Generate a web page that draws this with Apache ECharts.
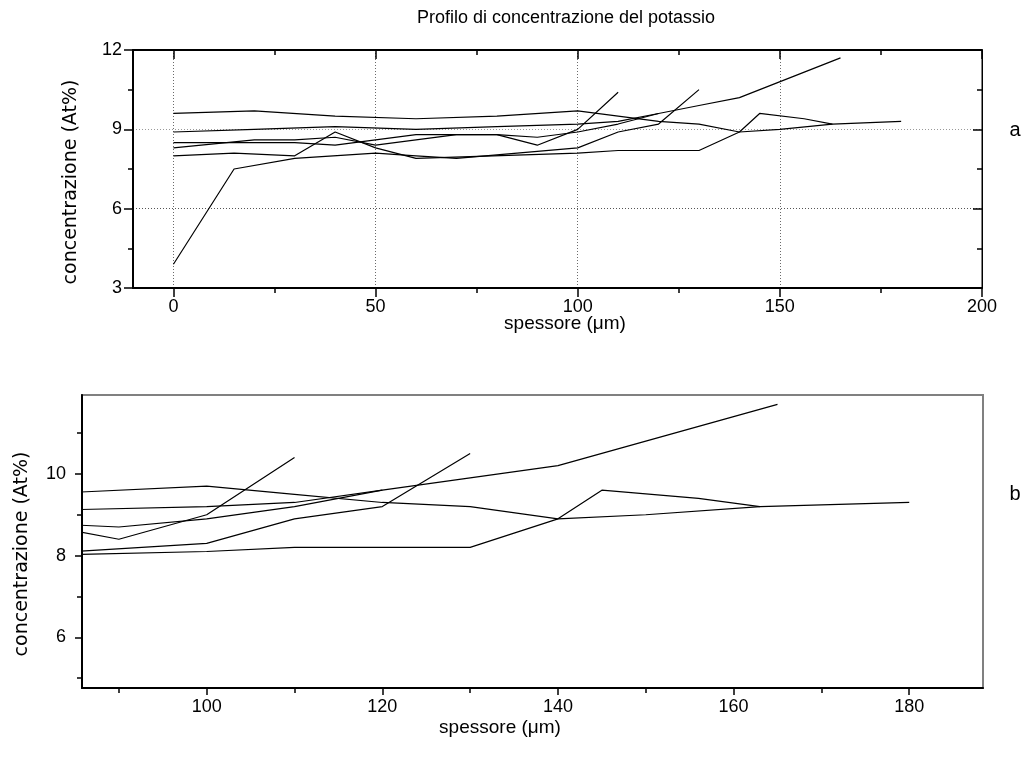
<!DOCTYPE html>
<html>
<head>
<meta charset="utf-8">
<script src="https://cdn.jsdelivr.net/npm/echarts@6/dist/echarts.min.js"></script>
<style>
html, body { margin: 0; padding: 0; background: #fff; }
#chart { width: 1036px; height: 758px; }
</style>
</head>
<body>
<div id="chart"></div>
<script>
// Potassium concentration (At%) versus thickness (µm), six measured profiles
const profile1 = [[0, 9.6], [20, 9.7], [40, 9.5], [60, 9.4], [80, 9.5], [100, 9.7], [110, 9.5], [120, 9.3], [130, 9.2], [140, 8.9], [150, 9.0], [163, 9.2], [180, 9.3]];
const profile2 = [[0, 8.9], [20, 9.0], [40, 9.1], [60, 9.0], [80, 9.1], [100, 9.2], [110, 9.3], [120, 9.6], [130, 9.9], [140, 10.2], [165, 11.7]];
const profile3 = [[0, 8.5], [20, 8.5], [30, 8.5], [40, 8.4], [50, 8.6], [60, 8.8], [70, 8.8], [80, 8.8], [90, 8.7], [100, 8.9], [110, 9.2], [120, 9.6]];
const profile4 = [[0, 8.3], [20, 8.6], [30, 8.6], [40, 8.7], [50, 8.4], [60, 8.6], [70, 8.8], [80, 8.8], [90, 8.4], [100, 9.0], [110, 10.4]];
const profile5 = [[0, 3.9], [15, 7.5], [30, 7.9], [50, 8.1], [60, 8.0], [70, 7.9], [100, 8.3], [110, 8.9], [120, 9.2], [130, 10.5]];
const profile6 = [[0, 8.0], [15, 8.1], [30, 8.0], [40, 8.9], [50, 8.3], [60, 7.9], [100, 8.1], [110, 8.2], [130, 8.2], [140, 8.9], [145, 9.6], [156, 9.4], [163, 9.2]];
const profiles = [profile1, profile2, profile3, profile4, profile5, profile6];

// Panel a: full profile
const aXRange = [-10, 200];
const aYRange = [3, 12];
const aXMajor = [0, 50, 100, 150, 200];
const aXMinor = [25, 75, 125, 175];
const aYMajor = [3, 6, 9, 12];
const aYMinor = [4.5, 7.5, 10.5];

// Panel b: enlarged view of the deeper region
const bXRange = [85.8, 188.4];
const bYRange = [4.76, 11.93];
const bXMajor = [100, 120, 140, 160, 180];
const bXMinor = [90, 110, 130, 150, 170];
const bYMajor = [6, 8, 10];
const bYMinor = [5, 7, 9, 11];

const titleText = 'Profilo di concentrazione del potassio';
const xName = 'spessore (\u03bcm)';
const yName = 'concentrazione (At%)';

const FONT = '"Liberation Sans", Arial, sans-serif';
const WIDE_FONT = '"DejaVu Sans", sans-serif';
const BLACK = '#000';

function axis(grid, range, pos, ticks, o) {
  o = o || {};
  return {
    gridIndex: grid,
    type: 'value',
    min: range[0],
    max: range[1],
    position: pos,
    axisLine: {
      show: o.line !== false,
      onZero: false,
      lineStyle: { color: o.lineColor || BLACK, width: o.lineWidth || 2 }
    },
    axisTick: {
      show: true,
      inside: !!o.inside,
      length: o.tickLen || 9,
      customValues: ticks,
      lineStyle: { color: BLACK, width: 1.5 }
    },
    axisLabel: o.labels ? {
      show: true,
      customValues: ticks,
      color: BLACK,
      fontFamily: FONT,
      fontSize: 18,
      margin: o.margin || 10
    } : { show: false },
    splitLine: o.split ? {
      show: true,
      lineStyle: { color: o.splitColor || '#6a6a6a', type: [1, 2], width: 1 }
    } : { show: false }
  };
}

const chart = echarts.init(document.getElementById('chart'), null, { renderer: 'canvas' });

const series = [];
profiles.forEach(function (p) {
  series.push({ type: 'line', xAxisIndex: 0, yAxisIndex: 0, data: p, showSymbol: false, clip: true,
    lineStyle: { color: BLACK, width: 1.2 }, emphasis: { disabled: true } });
  series.push({ type: 'line', xAxisIndex: 4, yAxisIndex: 4, data: p, showSymbol: false, clip: true,
    lineStyle: { color: BLACK, width: 1.2 }, emphasis: { disabled: true } });
});

chart.setOption({
  animation: false,
  backgroundColor: '#fff',
  grid: [
    { left: 133, top: 50, width: 849, height: 238, show: true, borderColor: BLACK, borderWidth: 1, backgroundColor: 'transparent' },
    { left: 82, top: 395, width: 901, height: 293, show: true, borderColor: '#808080', borderWidth: 2, backgroundColor: 'transparent' }
  ],
  xAxis: [
    axis(0, aXRange, 'bottom', aXMajor, { labels: true, split: true, tickLen: 9, margin: 10 }),
    axis(0, aXRange, 'bottom', aXMinor, { line: false, tickLen: 5 }),
    axis(0, aXRange, 'top', aXMajor, { inside: true, tickLen: 9 }),
    axis(0, aXRange, 'top', aXMinor, { line: false, inside: true, tickLen: 5 }),
    axis(1, bXRange, 'bottom', bXMajor, { labels: true, tickLen: 7, margin: 10 }),
    axis(1, bXRange, 'bottom', bXMinor, { line: false, tickLen: 5 })
  ],
  yAxis: [
    axis(0, aYRange, 'left', aYMajor, { labels: true, split: true, splitColor: ['#6a6a6a', '#555', '#999', '#6a6a6a'], tickLen: 9, margin: 11 }),
    axis(0, aYRange, 'left', aYMinor, { line: false, tickLen: 5 }),
    axis(0, aYRange, 'right', aYMajor, { inside: true, lineWidth: 1, tickLen: 9 }),
    axis(0, aYRange, 'right', aYMinor, { line: false, inside: true, tickLen: 5 }),
    axis(1, bYRange, 'left', bYMajor, { labels: true, tickLen: 7, margin: 16 }),
    axis(1, bYRange, 'left', bYMinor, { line: false, tickLen: 5 })
  ],
  series: series,
  graphic: [
    { type: 'text', x: 566, y: 18, style: { text: titleText, fontFamily: FONT, fontSize: 18, fill: BLACK, align: 'center', verticalAlign: 'middle' } },
    { type: 'text', x: 565, y: 324, style: { text: xName, fontFamily: FONT, fontSize: 19, fill: BLACK, align: 'center', verticalAlign: 'middle' } },
    { type: 'text', x: 500, y: 728, style: { text: xName, fontFamily: FONT, fontSize: 19, fill: BLACK, align: 'center', verticalAlign: 'middle' } },
    { type: 'text', x: 71, y: 182, rotation: Math.PI / 2, style: { text: yName, fontFamily: WIDE_FONT, fontSize: 19, fill: BLACK, align: 'center', verticalAlign: 'middle' } },
    { type: 'text', x: 22, y: 554, rotation: Math.PI / 2, style: { text: yName, fontFamily: WIDE_FONT, fontSize: 19, fill: BLACK, align: 'center', verticalAlign: 'middle' } },
    { type: 'text', x: 1015, y: 130, style: { text: 'a', fontFamily: FONT, fontSize: 20, fill: BLACK, align: 'center', verticalAlign: 'middle' } },
    { type: 'text', x: 1015, y: 494, style: { text: 'b', fontFamily: FONT, fontSize: 20, fill: BLACK, align: 'center', verticalAlign: 'middle' } }
  ]
});
</script>
</body>
</html>
